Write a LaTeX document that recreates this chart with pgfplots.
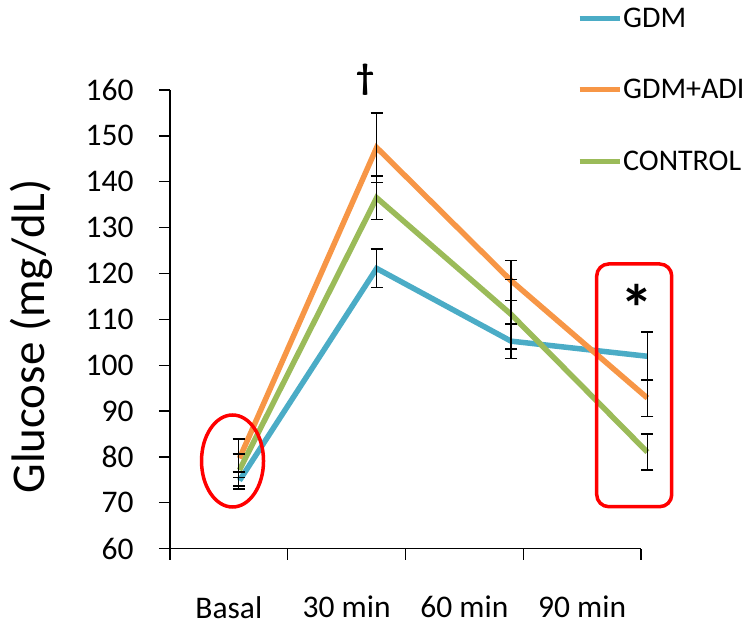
\documentclass[border=0pt]{standalone}
\usepackage{fontspec}
\setmainfont{Carlito}
\usepackage{pgfplots}
\pgfplotsset{compat=1.18}
\definecolor{cgdm}{HTML}{4BACC6}
\definecolor{cadi}{HTML}{F79646}
\definecolor{cctl}{HTML}{9BBB59}
\begin{document}
\begin{tikzpicture}
\useasboundingbox (-170pt,-77.3pt) rectangle (582pt,548.7pt);
\begin{axis}[
  at={(0pt,0pt)}, anchor=south west,
  scale only axis, width=471pt, height=458.7pt,
  xmin=0, xmax=4, ymin=60, ymax=160,
  axis x line=bottom, axis y line=left,
  axis line style={-, line width=1.3pt, black},
  xtick={0,1,2,3,4}, xticklabels={},
  extra x ticks={0.5,1.5,2.5,3.5},
  extra x tick labels={Basal,30 min,60 min,90 min},
  extra x tick style={major tick length=0pt, xticklabel style={yshift=-44pt}},
  ytick={60,70,...,160},
  yticklabel style={xshift=-22pt},
  tick align=outside, major tick length=11pt,
  tick style={black, line width=1.3pt},
  ticklabel style={font=\fontsize{31.5}{37}\selectfont},
  /pgf/number format/assume math mode=true,
  ylabel={Glucose (mg/dL)},
  ylabel style={at={(axis description cs:-0.295,0.4626)}, anchor=center, rotate=0, font=\fontsize{47}{56}\selectfont},
  clip=false,
  legend style={at={(axis description cs:0.864,1.0)}, anchor=west, draw=none, fill=none,
    font=\fontsize{30}{36}\selectfont, row sep=49pt, inner sep=0pt,
    nodes={inner sep=1pt}},
  legend cell align=left,
  legend image code/.code={\draw[#1, line width=5pt] (0pt,0pt) -- (40pt,0pt);},
]
\addplot[cgdm, line width=5.5pt] coordinates {(0.590,74.85) (1.755,121.1) (2.896,105.25) (4.054,101.95)};
\addlegendentry{GDM}
\addplot[cadi, line width=5.5pt] coordinates {(0.590,79.7) (1.755,147.45) (2.896,118.45) (4.054,92.85)};
\addlegendentry{GDM+ADI}
\addplot[cctl, line width=5.5pt] coordinates {(0.590,77.15) (1.755,136.5) (2.896,111.1) (4.054,81.05)};
\addlegendentry{CONTROL}

\pgfplotsset{every axis plot/.append style={forget plot}}
\addplot[draw=none, mark=none, error bars/.cd, y dir=both, y explicit,
  error bar style={draw=black, line width=1.6pt},
  error mark options={draw=black, rotate=90, mark size=6pt, line width=1.6pt}]
  coordinates {(0.583,74.85) +- (0,1.85) (1.755,121.1) +- (0,4.2) (2.896,105.25) +- (0,3.8) (4.054,101.95) +- (0,5.3)};
\addplot[draw=none, mark=none, error bars/.cd, y dir=both, y explicit,
  error bar style={draw=black, line width=1.6pt},
  error mark options={draw=black, rotate=90, mark size=6pt, line width=1.6pt}]
  coordinates {(0.583,79.7) +- (0,4.2) (1.755,147.45) +- (0,7.6) (2.896,118.45) +- (0,4.35) (4.054,92.85) +- (0,4.05)};
\addplot[draw=none, mark=none, error bars/.cd, y dir=both, y explicit,
  error bar style={draw=black, line width=1.6pt},
  error mark options={draw=black, rotate=90, mark size=6pt, line width=1.6pt}]
  coordinates {(0.583,77.15) +- (0,3.45) (1.755,136.5) +- (0,4.7) (2.896,111.1) +- (0,7.6) (4.054,81.05) +- (0,3.95)};

\draw[red, line width=3.5pt] (axis cs:0.531,79.12) ellipse [x radius=31pt, y radius=46pt];
\draw[red, line width=3.5pt, rounded corners=12pt] (axis cs:3.624,69.16) rectangle (axis cs:4.261,122.07);
\node[font=\fontsize{36}{42}\selectfont] at (axis cs:1.656,162.2) {\textbf{†}};
\node[font=\fontsize{66}{76}\selectfont\bfseries] at (axis cs:3.966,112.4) {*};
\end{axis}
\end{tikzpicture}
\end{document}
